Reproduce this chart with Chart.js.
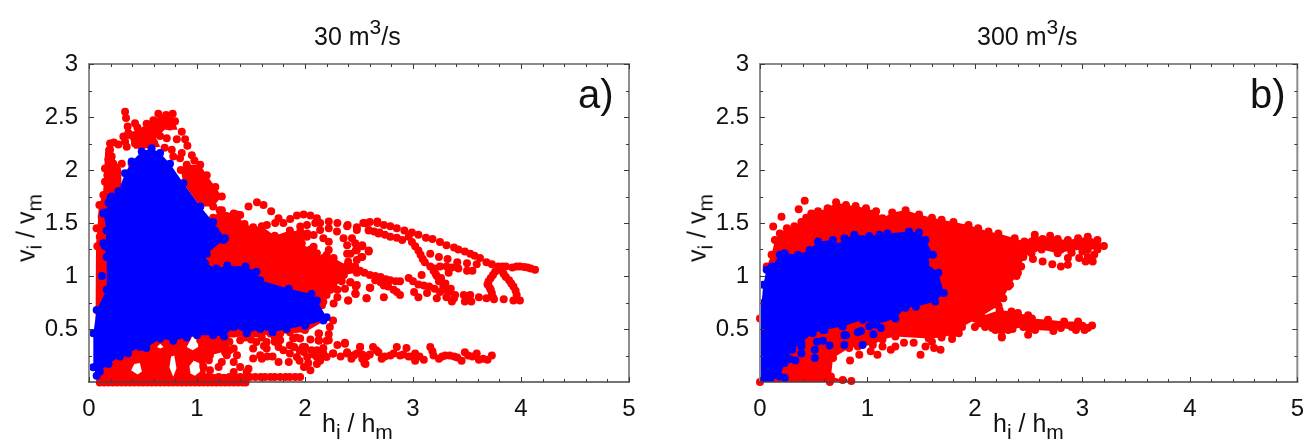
<!DOCTYPE html>
<html><head><meta charset="utf-8">
<script src="https://cdn.jsdelivr.net/npm/chart.js@4"></script>
<style>
html,body{margin:0;padding:0;background:#fff;width:1309px;height:441px;overflow:hidden}
canvas{position:absolute;top:0}
.t{position:absolute;font-family:"Liberation Sans",Arial,sans-serif;font-size:25px;color:#111;white-space:nowrap;line-height:1}
.t sub,.t sup{font-size:21px;line-height:0}
.t sub{vertical-align:-7px}.t sup{vertical-align:11px}
.big{font-size:40px}
.rot{transform:translate(-50%,-50%) rotate(-90deg)}
</style></head><body>
<canvas id="ca" width="650" height="441" style="left:0;width:650px;height:441px"></canvas>
<canvas id="cb" width="649" height="441" style="left:660px;width:649px;height:441px"></canvas>
<div class="t" style="left:314px;top:24px">30 m<sup>3</sup>/s</div>
<div class="t" style="left:977px;top:24px">300 m<sup>3</sup>/s</div>
<div class="t big" style="left:578px;top:74px">a)</div>
<div class="t big" style="left:1250px;top:74px">b)</div>
<div class="t" style="left:322px;top:411px">h<sub>i</sub> / h<sub>m</sub></div>
<div class="t" style="left:993px;top:411px">h<sub>i</sub> / h<sub>m</sub></div>
<div class="t rot" style="left:26px;top:228px">v<sub>i</sub> / v<sub>m</sub></div>
<div class="t rot" style="left:697px;top:228px">v<sub>i</sub> / v<sub>m</sub></div>
<script>
const xTicks=[0,1,2,3,4,5];
const yTicks=[0.5,1,1.5,2,2.5,3];
const xMinor=[0.2,0.4,0.6,0.8,1.2,1.4,1.6,1.8,2.2,2.4,2.6,2.8,3.2,3.4,3.6,3.8,4.2,4.4,4.6,4.8];
const yMinor=[0.25,0.75,1.25,1.75,2.25,2.75];
const RED='#ff0000',BLUE='#0000ff';

// ---- panel a (30 m3/s) ----
const aBlue=[[.071,.06],[.10,.1],[.18,.17],[.287,.24],[.36,.27],[.473,.33],[.53,.32],[.658,.41],[.78,.39],[.905,.42],[1.0,.44],[1.15,.44],[1.25,.43],[1.34,.52],[1.46,.46],[1.585,.50],[1.7,.47],[1.83,.50],[2.0,.53],[2.17,.58],[2.20,.61],[2.11,.77],[2.06,.83],[1.85,.88],[1.585,.96],[1.55,1.04],[1.45,1.09],[1.28,1.10],[1.18,1.07],[1.075,1.12],[1.09,1.21],[1.245,1.34],[1.26,1.355],[1.15,1.51],[1.03,1.655],[.874,1.875],[.75,2.06],[.658,2.16],[.58,2.205],[.488,2.174],[.395,2.08],[.334,1.97],[.272,1.80],[.21,1.75],[.18,1.69],[.195,1.62],[.133,1.59],[.164,1.43],[.148,1.28],[.133,1.31],[.164,1.18],[.164,.87],[.071,.68],[.04,.46],[.04,.14]];
const aBlueDots=[[.12,1.0],[.2,1.74],[.14,1.6],[1.1,1.35],[1.17,1.42]];
// red solid area below and behind the blue cloud, gaps traced through the bottom edge
const aRedLow=[[.07,0],[.06,.5],[.065,1.3],[.1,1.6],[.5,1.6],[1.2,1.0],[2.1,.7],[2.15,.56],[2.0,.47],[1.6,.44],[1.3,.42],[1.3,.3],[1.12,.25],[1.08,.22],[1.08,0],
 [.98,0],[.98,.06],[1.03,.1],[1.02,.18],[.97,.2],[.93,.15],[.94,.08],[.98,.06],[.98,0],
 [.905,0],[.905,.33],[.96,.30],[1.01,.33],[1.01,.42],[.98,.44],[.95,.42],[.905,.33],[.905,0],
 [.875,0],[.875,.42],[.87,.455],[.81,.455],[.81,.42],[.875,.42],[.875,0],
 [.78,0],[.78,.05],[.81,.13],[.79,.25],[.76,.24],[.745,.14],[.78,.05],[.78,0],
 [.66,0],[.66,.315],[.69,.33],[.66,.36],[.63,.33],[.66,.315],[.66,0],
 [.45,0],[.45,.07],[.49,.1],[.47,.18],[.42,.17],[.39,.11],[.45,.07],[.45,0]];
const aRedMass=[[1.21,1.62],[1.37,1.58],[1.44,1.49],[1.52,1.46],[1.60,1.47],[1.72,1.38],[1.86,1.43],[1.956,1.42],[2.02,1.40],[1.97,1.31],[2.05,1.25],[2.095,1.21],[2.17,1.17],[2.265,1.17],[2.39,1.10],[2.465,1.09],[2.48,1.03],[2.36,1.01],[2.34,.95],[2.265,.90],[2.19,.88],[2.157,.725],[1.8,.7],[1.2,1.0],[1.05,1.05],[1.05,1.35],[1.15,1.55]];
const aRedLobe=[[.85,2.0],[.905,2.05],[1.03,2.05],[1.09,1.95],[1.17,1.84],[1.23,1.75],[1.15,1.655],[1.03,1.655],[.874,1.875]];
const aRedLeft=[[.07,1.28],[.09,1.66],[.13,1.78],[.14,1.95],[.15,2.2],[.2,2.27],[.24,2.1],[.3,2.0],[.3,1.5],[.15,1.3]];
const aRedTop=[[.36,2.34],[.52,2.42],[.64,2.5],[.78,2.5],[.82,2.38],[.7,2.38],[.62,2.3],[.66,2.22],[.5,2.2],[.42,2.2]];
const aRedDots=[
 // upper spike
 [.334,2.55],[.343,2.49],[.358,2.41],[.364,2.35],[.426,2.44],[.448,2.40],[.318,2.316],[.38,2.33],[.473,2.35],[.534,2.436],[.596,2.47],[.642,2.53],[.714,2.52],[.775,2.53],[.797,2.46],[.658,2.43],[.75,2.41],[.627,2.36],[.565,2.30],[.519,2.25],[.426,2.25],[.349,2.22],[.334,2.27],[.859,2.36],[.89,2.29],[.813,2.29],[.72,2.30],[.658,2.32],[.70,2.21],[.911,2.228],[.859,2.16],[.843,2.11],[.952,2.14],[.976,2.09],[.766,2.19],[.78,2.127],[.6,2.26],[.48,2.27],[.57,2.38],[.68,2.48],[.74,2.46],
 [.195,2.25],[.23,2.26],[.195,2.19],[.179,2.10],[.21,2.127],[.148,2.015],[.225,2.06],[.195,1.97],[.148,1.89],[.256,1.92],[.225,1.84],[.133,1.765],[.195,1.80],[.096,1.67],[.164,1.69],[.117,1.56],[.07,1.45],[.10,1.37],[.077,1.28],[.127,1.47],[.303,2.06],[.272,2.24],[.395,2.06],[.17,1.95],[.2,1.88],[.26,2.0],[.24,1.75],
 // arcs right of the spike
 [1.23,1.62],[1.34,1.59],[1.40,1.576],[1.477,1.655],[1.555,1.696],[1.616,1.67],[1.687,1.61],[1.755,1.545],[1.647,1.48],[1.724,1.50],[1.80,1.50],[1.863,1.538],[1.925,1.57],[1.987,1.58],[2.05,1.57],[2.11,1.545],[2.095,1.50],[2.22,1.513],[2.30,1.50],[2.395,1.48],[2.14,1.50],[1.956,1.466],[2.018,1.48],
 [2.08,1.387],[2.14,1.434],[2.22,1.45],[2.296,1.42],[2.357,1.356],[2.39,1.29],[2.39,1.21],[2.40,1.135],[2.435,1.356],[2.48,1.434],[2.56,1.497],[2.67,1.513],[2.59,1.434],[2.68,1.40],
 [2.17,1.355],[2.22,1.324],[2.22,1.245],[2.20,1.198],[2.08,1.277],[2.11,1.214],[2.018,1.37],[2.53,1.29],[2.59,1.23],[2.53,1.18],[2.48,1.245],[2.465,1.31],[2.48,1.15],
 [2.42,.94],[2.48,.915],[2.465,.836],[2.57,.79],[2.605,.89],[2.40,.77],[2.30,.80],[2.30,.87],[2.20,.82],[2.17,.757],[2.265,.74],[2.235,.87],[2.37,.88],
 // long tail, outer line
 [2.48,1.46],[2.54,1.50],[2.60,1.51],[2.67,1.50],[2.73,1.48],[2.79,1.47],[2.85,1.45],[2.92,1.43],[2.99,1.41],[3.05,1.39],[3.12,1.36],[3.18,1.35],[3.25,1.32],[3.31,1.29],[3.38,1.27],[3.42,1.25],[3.48,1.23],[3.53,1.21],[3.57,1.19],[3.62,1.17],[3.68,1.13],[3.73,1.11],[3.79,1.09],[3.86,1.09],[3.92,1.08],[3.99,1.09],[4.06,1.08],[4.13,1.06],[3.83,1.09],[3.96,1.09],[4.03,1.085],[4.09,1.07],
 // inner line
 [2.59,1.43],[2.64,1.42],[2.69,1.41],[2.74,1.39],[2.79,1.37],[2.85,1.36],[2.90,1.34],[2.96,1.37],[2.99,1.32],[3.02,1.28],[3.05,1.24],[3.07,1.20],[3.09,1.16],[3.11,1.13],[3.16,1.09],[3.19,1.05],[3.21,1.02],[3.24,.95],[3.28,.90],[3.33,.85],[3.38,.79],[3.22,1.0],[3.2,1.07],[3.26,.98],[3.3,.93],[3.35,.88],[3.3,.87],
 [3.25,1.09],[3.31,1.09],[3.36,1.08],[3.42,1.07],[3.50,1.12],[3.59,1.11],[3.50,1.05],[3.55,1.05],[3.24,1.18],[3.32,1.16],[3.41,1.13],[3.16,1.21],[3.08,1.01],[3.33,1.03],
 [3.47,.82],[3.53,.82],[3.48,.76],[3.54,.76],[3.61,.80],[3.68,.79],[3.75,.78],[3.84,.78],[3.93,.77],[3.99,.77],[3.5,.79],[3.96,.78],[3.39,.82],[3.36,.76],
 [3.81,1.07],[3.76,1.04],[3.72,.98],[3.69,.92],[3.72,.87],[3.74,.80],[3.74,1.01],[3.70,.95],[3.71,.89],[3.73,.84],[3.84,1.02],[3.89,.96],[3.93,.90],[3.96,.82],[3.82,1.05],[3.86,.99],[3.91,.93],[3.95,.86],
 // lower band of the tail
 [2.42,1.09],[2.46,1.07],[2.51,1.05],[2.55,1.03],[2.60,1.01],[2.65,1.0],[2.70,.99],[2.75,.97],[2.79,.96],[2.84,.95],[2.88,.95],[2.96,.98],[3.0,.95],[3.05,.92],[3.1,.91],[3.15,.90],[3.2,.88],[3.25,.85],
 [2.73,.91],[2.77,.9],[2.82,.87],[2.85,.85],[2.88,.82],[3.01,.85],[3.05,.80],[3.13,.84],[3.22,.79],[3.31,.80],[2.40,.77],[2.57,.79],[2.73,.80],[2.60,.89],[2.47,.90],[2.42,.94],[2.47,.83],[2.7,.94],[2.65,.96],
 [2.53,1.28],[2.59,1.24],[2.52,1.18],[2.47,1.24],[2.42,1.21],[2.39,1.47],
 // flat low tail
 [2.37,.36],[2.33,.24],[2.39,.27],[2.43,.22],[2.48,.27],[2.51,.33],[2.55,.18],[2.57,.24],[2.63,.33],[2.68,.28],[2.71,.22],[2.79,.25],[2.85,.33],[2.88,.25],[2.94,.32],[2.96,.24],[3.02,.27],[3.02,.20],[3.10,.21],[3.16,.33],[3.19,.25],[3.24,.22],[3.30,.25],[3.38,.24],[3.45,.20],[3.48,.28],[3.55,.24],[3.59,.27],[3.61,.21],[3.69,.21],[3.73,.25],[2.53,.26],[2.66,.3],[2.74,.24],[2.82,.27],[2.91,.26],[2.99,.24],[3.06,.24],[3.18,.29],[3.27,.24],[3.34,.25],[3.41,.23],[3.51,.25],[3.65,.22],[2.45,.25],[2.6,.26],
 // mesh under the blue cloud
 [1.0,.457],[1.12,.457],[1.245,.457],[1.34,.457],[1.46,.457],[1.55,.457],[1.68,.457],[1.77,.457],[1.86,.47],[2.0,.49],[2.125,.457],
 [1.03,.394],[1.12,.394],[1.21,.394],[1.40,.394],[1.55,.378],[1.645,.378],[1.77,.394],[1.89,.41],[1.955,.41],[2.125,.394],[2.22,.394],
 [1.06,.315],[1.18,.315],[1.34,.315],[1.52,.315],[1.645,.315],[1.755,.331],[1.86,.347],[2.0,.331],
 [1.12,.252],[1.276,.252],[1.37,.252],[1.585,.252],[1.86,.268],[1.99,.284],[2.06,.30],[2.17,.268],[2.26,.268],
 [1.11,.205],[1.23,.189],[1.34,.189],[1.52,.221],[1.755,.189],[1.85,.189],[1.925,.237],[2.02,.237],[2.11,.237],[2.20,.237],
 [1.06,.142],[1.20,.142],[1.40,.142],[1.477,.126],[1.99,.142],
 [1.12,.11],[1.34,.095],[1.46,.095],[2.05,.11],
 [1.1,.047],[1.15,.04],[1.2,.047],[1.25,.04],[1.3,.047],[1.35,.04],[1.4,.047],[1.45,.04],[1.49,.047],[1.54,.047],[1.59,.047],[1.63,.047],[1.68,.047],[1.72,.047],[1.77,.047],[1.82,.047],[1.86,.047],[1.91,.047],[1.955,.047],
 [2.11,.17],[2.16,.24],[2.11,.30],[2.17,.32],[2.20,.39],[2.13,.39],[2.22,.45],[2.13,.457],[2.23,.52],[2.26,.58],[2.30,.35],[2.37,.37],[2.26,.27],[2.39,.28],[2.45,.25],[2.51,.33],[2.53,.22],[2.56,.17],
 [1.09,.36],[1.15,.34],[1.24,.36],[1.3,.38],[1.3,.3],[1.26,.28],[1.45,.42],[1.5,.4],[1.6,.42],[1.72,.42],[1.62,.34],[1.72,.38],[1.8,.3],[1.9,.33],[1.95,.3],[1.92,.42],[2.05,.4],[1.7,.24],[1.6,.22],[1.65,.24],[1.95,.2],[2.03,.18],[1.98,.33],[2.08,.26],[2.14,.2],
 // row hugging the axis
 [.1,-.005],[.14,-.005],[.18,-.005],[.22,-.005],[.26,-.005],[.3,-.005],[.34,-.005],[.38,-.005],[.42,-.005],[.46,-.005],[.5,-.005],[.54,-.005],[.58,-.005],[.62,-.005],[.66,-.005],[.7,-.005],[.74,-.005],[.78,-.005],[.82,-.005],[.86,-.005],[.9,-.005],[.94,-.005],[.98,-.005],[1.02,-.005],[1.06,-.005],[1.1,-.005],[1.14,-.005],[1.18,-.005],[1.22,-.005],[1.26,-.005],[1.3,-.005],[1.34,-.005],[1.38,-.005],[1.42,-.005],[1.45,-.005]
];

// ---- panel b (300 m3/s) ----
const bRedBody=[[0,0],[0,.6],[.062,1.09],[.108,1.2],[.139,1.34],[.185,1.40],[.25,1.45],[.32,1.47],[.385,1.51],[.43,1.55],[.478,1.59],[.54,1.61],[.63,1.64],[.708,1.695],[.80,1.67],[.89,1.66],[.986,1.64],[1.08,1.61],[1.14,1.545],[1.23,1.60],[1.355,1.62],[1.48,1.58],[1.6,1.55],[1.69,1.53],[1.8,1.51],[1.94,1.48],[2.03,1.45],[2.126,1.42],[2.218,1.40],[2.37,1.356],[2.46,1.325],[2.557,1.39],[2.63,1.35],[2.70,1.38],[2.77,1.35],[2.865,1.34],[2.96,1.356],[3.05,1.37],[3.14,1.34],[3.20,1.284],[3.14,1.25],[3.05,1.25],[2.895,1.24],[2.77,1.215],[2.62,1.25],[2.526,1.215],[2.45,1.18],[2.43,1.09],[2.387,1.0],[2.326,.917],[2.264,.79],[2.22,.72],[2.06,.62],[1.88,.52],[1.79,.445],[1.69,.42],[1.57,.41],[1.26,.43],[1.14,.40],[1.05,.35],[.91,.335],[.83,.32],[.68,.226],[.66,.053],[.77,.02],[.85,.01],[.65,0]];
const bRedTail=[[2.0,.60],[2.23,.68],[2.34,.665],[2.40,.65],[2.495,.63],[2.53,.60],[2.68,.587],[2.83,.57],[2.96,.57],[3.09,.533],[3.02,.49],[2.94,.49],[2.80,.51],[2.73,.48],[2.56,.49],[2.495,.445],[2.45,.52],[2.31,.49],[2.25,.43],[2.16,.51],[2.0,.52]];
const bRedDots=[[.416,1.71],[.36,1.63],[.20,1.56],[.123,1.466],[.478,1.576],
 [1.494,.257],[1.54,.336],[1.60,.38],[1.68,.305],[1.62,.32],[1.787,.405],[1.85,.46],[2.25,.42],[2.095,.52],[2.19,.49],[1.26,.336],[1.217,.304],[1.14,.336],[1.093,.257],[1.03,.29],[.924,.257],[.838,.204],[1.34,.37],[1.43,.37],
 [2.45,1.19],[2.54,1.16],[2.63,1.136],[2.72,1.11],[2.80,1.09],[2.865,1.105],[2.865,1.17],[2.97,1.17],[3.03,1.136],[3.096,1.136],[3.11,1.2],[3.0,1.23],[3.05,1.18],[2.40,1.03],[2.31,.90],[2.55,1.26],[2.7,1.28],[2.8,1.25],[2.9,1.22],
 [2.6,.55],[2.75,.53],[2.9,.52],[2.25,.6],[2.4,.58],[2.35,.5],[2.5,.54],[2.65,.53],[3.0,.53],[3.05,.51]];
const bBlue=[[0,0],[0,.587],[.015,.744],[.03,.917],[.062,1.06],[.108,1.09],[.185,1.2],[.23,1.215],[.354,1.2],[.462,1.246],[.54,1.325],[.678,1.34],[.71,1.28],[.786,1.356],[.878,1.388],[1.017,1.378],[1.11,1.388],[1.186,1.40],[1.386,1.42],[1.479,1.41],[1.54,1.34],[1.61,1.2],[1.54,1.124],[1.66,1.03],[1.71,.84],[1.63,.76],[1.45,.71],[1.355,.70],[1.26,.60],[1.08,.54],[.955,.587],[.77,.524],[.585,.49],[.49,.46],[.385,.367],[.30,.304],[.23,.18],[.185,.053],[.09,0]];
const bBlueDots=[[.785,.44],[.91,.47],[.94,.48],[1.055,.45],[.955,.35],[.785,.35],[.647,.345],[.585,.39],[.53,.38],[.51,.305],[.385,.27],[.385,.335],[.51,.226],[.33,.204],[.277,.216],[.23,.04],[1.017,.525],[1.08,.565],[1.125,.51],[.60,.49],[.8,.44]];

const pts=a=>a.map(([x,y])=>({x,y}));
const R=4;
const shape=(d,c,order,r)=>({data:pts(d),showLine:true,fill:'shape',backgroundColor:c,borderColor:c,borderWidth:0,borderDash:[2,2],tension:0,pointRadius:r,pointBackgroundColor:c,pointBorderWidth:0,clip:false,order});
const dots=(d,c,order)=>({data:pts(d),showLine:false,backgroundColor:c,borderColor:c,pointRadius:R,pointBackgroundColor:c,pointBorderWidth:0,clip:false,order});

const frame={id:'frame',afterDatasetsDraw(ch){
 const c=ch.ctx,{left:l,right:r,top:t,bottom:b}=ch.chartArea,X=ch.scales.x,Y=ch.scales.y;
 c.save();
 c.strokeStyle='#8c8c8c';c.lineWidth=2;c.beginPath();c.moveTo(l,b);c.lineTo(l,t);c.lineTo(r,t);c.lineTo(r,b);c.stroke();
 c.strokeStyle='#3a3a3a';c.lineWidth=1;
 const tick=(v,len,isX)=>{c.beginPath();
  if(isX){const p=Math.round(X.getPixelForValue(v))+.5;c.moveTo(p,b);c.lineTo(p,b-len);c.moveTo(p,t);c.lineTo(p,t+len);}
  else{const p=Math.round(Y.getPixelForValue(v))+.5;c.moveTo(l,p);c.lineTo(l+len,p);c.moveTo(r,p);c.lineTo(r-len,p);}
  c.stroke();};
 xTicks.forEach(v=>tick(v,5,true));xMinor.forEach(v=>tick(v,3,true));
 yTicks.forEach(v=>tick(v,5,false));yMinor.forEach(v=>tick(v,3,false));
 c.lineWidth=1.5;c.strokeStyle='#444';c.beginPath();c.moveTo(l-1,b);c.lineTo(r+1,b);c.stroke();
 c.restore();}};

const font={family:'"Liberation Sans",Arial,sans-serif',size:24};
function make(id,datasets,yw,padR){
 new Chart(document.getElementById(id),{type:'scatter',data:{datasets},plugins:[frame],options:{
  responsive:false,animation:false,devicePixelRatio:1,
  layout:{padding:{top:64,right:padR,bottom:0,left:0}},
  plugins:{legend:{display:false},tooltip:{enabled:false},title:{display:false}},
  scales:{
   x:{type:'linear',min:0,max:5,afterBuildTicks:s=>{s.ticks=xTicks.map(value=>({value}))},afterFit:s=>{s.height=59},
      grid:{display:false},border:{display:false},ticks:{color:'#111',font,padding:5,maxRotation:0,autoSkip:false,callback:v=>String(v)}},
   y:{type:'linear',min:0,max:3,afterBuildTicks:s=>{s.ticks=yTicks.map(value=>({value}))},afterFit:s=>{s.width=yw},
      grid:{display:false},border:{display:false},ticks:{color:'#111',font,padding:3,autoSkip:false,callback:v=>String(v)}}
  }}});
}
make('ca',[
 dots(aBlueDots,BLUE,1),shape(aBlue,BLUE,2,R),
 dots(aRedDots,RED,3),shape(aRedMass,RED,4,R),shape(aRedLobe,RED,5,R),shape(aRedLeft,RED,6,0),shape(aRedTop,RED,7,0),shape(aRedLow,RED,9,0)
],89,21);
make('cb',[
 dots(bBlueDots,BLUE,1),Object.assign(shape(bBlue,BLUE,2,R),{clip:0}),
 dots(bRedDots,RED,3),shape(bRedTail,RED,4,R),shape(bRedBody,RED,5,R)
],100,8);
</script>
</body></html>
